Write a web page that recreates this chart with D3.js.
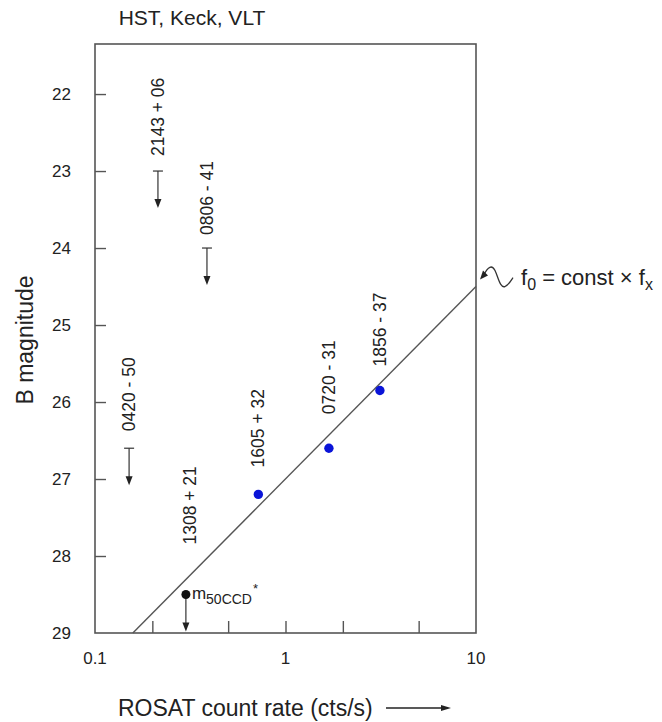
<!DOCTYPE html>
<html>
<head>
<meta charset="utf-8">
<script src="https://cdn.jsdelivr.net/npm/d3@7"></script>
<style>
  body { margin: 0; background: #fff; }
  text { font-family: "Liberation Sans", Arial, Helvetica, sans-serif; fill: #222; }
</style>
</head>
<body>
<div id="viz-container"></div>
<script>
// detections (blue dots)
let detNames = ["1605 + 32", "0720 - 31", "1856 - 37"];
let detRate = [0.72, 1.69, 3.13];
let detMag = [27.2, 26.6, 25.85];

// upper limits (arrows)
let limNames = ["2143 + 06", "0806 - 41", "0420 - 50", "1308 + 21"];
let limRate = [0.214, 0.387, 0.151, 0.30];
let limMag = [23.0, 24.0, 26.6, 28.5];

// f0 = const x fx  ->  B = 27.0 - 2.5 log10(rate)
let fitRate = [0.158, 10];
let fitMag = [29.0, 24.5];

let yTicks = [22, 23, 24, 25, 26, 27, 28, 29];
let xMinorTicks = [0.2, 0.5, 1, 2, 5];
let xLabels = [0.1, 1, 10];

let W = 662, H = 722;
let pLeft = 95, pRight = 476, pTop = 44, pBottom = 633;

// label gap above each mark (px)
let labelGap = {"2143 + 06": 15, "0806 - 41": 13, "0420 - 50": 17, "1308 + 21": 50,
                "1605 + 32": 27, "0720 - 31": 34, "1856 - 37": 24};

let viz = d3.select("#viz-container")
    .append("svg")
    .attr("width", W)
    .attr("height", H);

let xScale = d3.scaleLog().domain([0.1, 10]).range([pLeft, pRight]);
let yScale = d3.scaleLinear().domain([21.35, 29]).range([pTop, pBottom]);

let grey = "#555";

// frame
viz.append("rect")
    .attr("x", pLeft).attr("y", pTop)
    .attr("width", pRight - pLeft).attr("height", pBottom - pTop)
    .attr("fill", "none").attr("stroke", grey).attr("stroke-width", 1.6);

// y axis ticks (inside)
let yAxis = d3.axisRight(yScale).tickValues(yTicks.slice(0, 7)).tickSize(11).tickFormat("");
let yAxisGroup = viz.append("g").attr("transform", "translate(" + pLeft + ",0)").call(yAxis);
yAxisGroup.select(".domain").remove();
yAxisGroup.selectAll("line").attr("stroke", grey).attr("stroke-width", 1.4);

viz.selectAll(".ylab").data(yTicks).enter()
    .append("text")
    .attr("x", 71)
    .attr("y", d => yScale(d))
    .attr("dy", "0.36em")
    .attr("text-anchor", "end")
    .style("font-size", "17px")
    .text(d => d);

// x axis ticks (inside)
let xAxis = d3.axisTop(xScale).tickValues(xMinorTicks).tickSize(12).tickFormat("");
let xAxisGroup = viz.append("g").attr("transform", "translate(0," + pBottom + ")").call(xAxis);
xAxisGroup.select(".domain").remove();
xAxisGroup.selectAll("line").attr("stroke", grey).attr("stroke-width", 1.4);

viz.selectAll(".xlab").data(xLabels).enter()
    .append("text")
    .attr("x", d => xScale(d))
    .attr("y", 664)
    .attr("text-anchor", "middle")
    .style("font-size", "17px")
    .text(d => d);

// titles
viz.append("text").attr("x", 192).attr("y", 25).attr("text-anchor", "middle")
    .style("font-size", "21px").text("HST, Keck, VLT");

viz.append("text").attr("transform", "translate(33,340) rotate(-90)")
    .attr("text-anchor", "middle").style("font-size", "23px").text("B magnitude");

viz.append("text").attr("x", 118).attr("y", 716)
    .style("font-size", "23px").text("ROSAT count rate (cts/s)");
viz.append("line").attr("x1", 386).attr("x2", 444).attr("y1", 708).attr("y2", 708)
    .attr("stroke", "#222").attr("stroke-width", 1.3);
viz.append("path").attr("d", "M451,708 L441,705 L441,711 Z").attr("fill", "#222");

// fit line
let fit = fitRate.map((r, i) => ({r: r, m: fitMag[i]}));
let lineGenerator = d3.line().x(d => xScale(d.r)).y(d => yScale(d.m));
viz.append("path").datum(fit)
    .attr("fill", "none").attr("stroke", grey).attr("stroke-width", 1.4)
    .attr("d", lineGenerator);

// upper limit arrows
let lims = limNames.map((n, i) => ({name: n, r: limRate[i], m: limMag[i]}));
let limG = viz.selectAll(".lim").data(lims).enter().append("g");
limG.filter(d => d.name !== "1308 + 21").append("line")
    .attr("x1", d => xScale(d.r) - 5).attr("x2", d => xScale(d.r) + 5)
    .attr("y1", d => yScale(d.m)).attr("y2", d => yScale(d.m))
    .attr("stroke", "#333").attr("stroke-width", 1.2);
limG.append("line")
    .attr("x1", d => xScale(d.r)).attr("x2", d => xScale(d.r))
    .attr("y1", d => yScale(d.m)).attr("y2", d => yScale(d.m) + 30)
    .attr("stroke", "#333").attr("stroke-width", 1.2);
limG.append("path")
    .attr("d", d => {
        let x = xScale(d.r), y = yScale(d.m) + 37;
        return "M" + x + "," + y + " L" + (x - 3.5) + "," + (y - 9) + " L" + (x + 3.5) + "," + (y - 9) + " Z";
    })
    .attr("fill", "#222");
limG.filter(d => d.name === "1308 + 21").append("circle")
    .attr("cx", d => xScale(d.r)).attr("cy", d => yScale(d.m))
    .attr("r", 4.5).attr("fill", "#111");
limG.append("text")
    .attr("transform", d => "translate(" + (xScale(d.r) + (d.name === "1308 + 21" ? 4 : 0)) + "," + (yScale(d.m) - labelGap[d.name]) + ") rotate(-90)")
    .attr("dy", "0.35em")
    .style("font-size", "17.5px")
    .text(d => d.name);

// m50CCD* note
let mNote = viz.append("text")
    .attr("x", xScale(limRate[3]) + 6).attr("y", yScale(limMag[3]) + 4)
    .style("font-size", "17px");
mNote.append("tspan").text("m");
mNote.append("tspan").attr("dy", 5).style("font-size", "14px").text("50CCD");
mNote.append("tspan").attr("dy", -11).attr("dx", 1).style("font-size", "13px").text("*");

// detections
let dets = detNames.map((n, i) => ({name: n, r: detRate[i], m: detMag[i]}));
viz.selectAll(".det").data(dets).enter()
    .append("circle")
    .attr("cx", d => xScale(d.r)).attr("cy", d => yScale(d.m))
    .attr("r", 4.7).attr("fill", "#0a14d8");
viz.selectAll(".detlab").data(dets).enter()
    .append("text")
    .attr("transform", d => "translate(" + xScale(d.r) + "," + (yScale(d.m) - labelGap[d.name]) + ") rotate(-90)")
    .attr("dy", "0.35em")
    .style("font-size", "17.5px")
    .text(d => d.name);

// annotation: f0 = const x fx
let ex = xScale(fitRate[1]), ey = yScale(fitMag[1]);
viz.append("path")
    .attr("d", "M" + (ex + 8) + "," + (ey - 12) +
        " C" + (ex + 12) + "," + (ey - 20) + " " + (ex + 16) + "," + (ey - 22) + " " + (ex + 19) + "," + (ey - 16) +
        " C" + (ex + 22) + "," + (ey - 10) + " " + (ex + 24) + "," + (ey + 2) + " " + (ex + 29) + "," + (ey) +
        " C" + (ex + 33) + "," + (ey - 2) + " " + (ex + 35) + "," + (ey - 6) + " " + (ex + 37) + "," + (ey - 9))
    .attr("fill", "none").attr("stroke", "#333").attr("stroke-width", 1.3);
viz.append("path")
    .attr("d", "M" + (ex + 4) + "," + (ey - 7) + " L" + (ex + 7) + "," + (ey - 16) + " L" + (ex + 12) + "," + (ey - 11) + " Z")
    .attr("fill", "#222");
let f = viz.append("text").attr("x", ex + 45).attr("y", ey - 2).style("font-size", "22px");
f.append("tspan").text("f");
f.append("tspan").attr("dy", 5).style("font-size", "16px").text("0");
f.append("tspan").attr("dy", -5).text(" = const \u00d7 f");
f.append("tspan").attr("dy", 5).style("font-size", "16px").text("x");
</script>
</body>
</html>
